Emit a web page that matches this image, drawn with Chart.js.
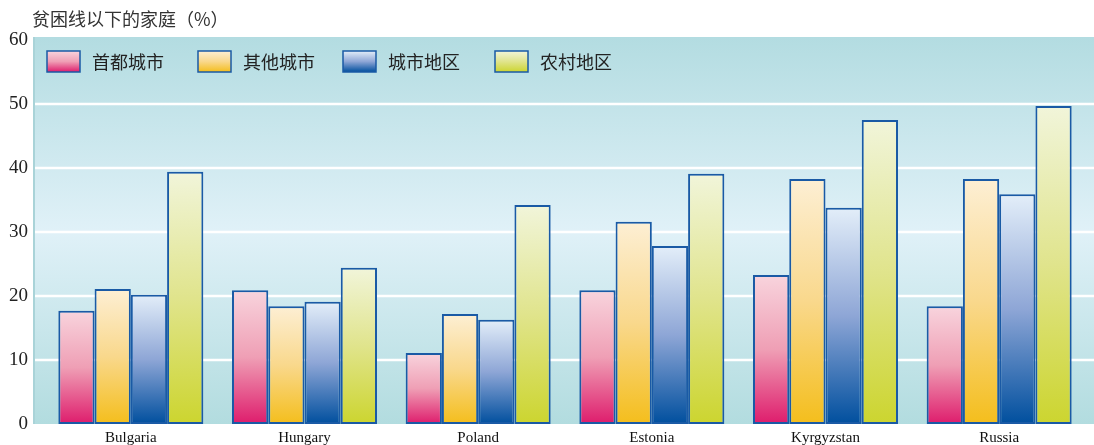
<!DOCTYPE html>
<html><head><meta charset="utf-8">
<script src="https://cdn.jsdelivr.net/npm/chart.js@4/dist/chart.umd.min.js"></script>
<style>html,body{margin:0;padding:0;background:#fff}#wrap{width:1094px;height:445px}</style>
</head><body><div id="wrap"><canvas id="c" width="1094" height="445"></canvas></div>
<script>
const categories = ["Bulgaria","Hungary","Poland","Estonia","Kyrgyzstan","Russia"];
const seriesNames = ["首都城市","其他城市","城市地区","农村地区"];
const capitalCity = [17.7, 20.9, 11.1, 20.9, 23.3, 18.4];
const otherCities = [21.1, 18.4, 17.2, 31.6, 38.3, 38.3];
const urbanAreas  = [20.2, 19.1, 16.3, 27.8, 33.8, 35.9];
const ruralAreas  = [39.4, 24.4, 34.2, 39.1, 47.5, 49.7];
const yTicks = [0,10,20,30,40,50,60];
const axisTitle = "贫困线以下的家庭（%）";

const gradStops = [
  ["#f8d4dd","#ef9fb5","#de1c6c"],
  ["#fdefd4","#f9d88c","#f4be1c"],
  ["#e3eef9","#8ea6d6","#004f9e"],
  ["#f1f5da","#e0e48c","#ccd52f"]
];
function makeGrad(ctx, i, top, bot){
  const g = ctx.createLinearGradient(0, top, 0, bot);
  g.addColorStop(0, gradStops[i][0]);
  g.addColorStop(0.5, gradStops[i][1]);
  g.addColorStop(1, gradStops[i][2]);
  return g;
}
function barFill(i){
  return function(ctx){
    const chart = ctx.chart;
    const ys = chart.scales.y;
    if(!chart.chartArea || !ys || ctx.type!=='data') return gradStops[i][2];
    const v = ctx.raw;
    const top = ys.getPixelForValue(v), bot = ys.getPixelForValue(0);
    if(!isFinite(top) || Math.abs(bot-top)<1) return gradStops[i][2];
    return makeGrad(chart.ctx, i, top, bot);
  };
}
const seriesData = [capitalCity, otherCities, urbanAreas, ruralAreas];
const datasets = seriesNames.map((n,i)=>({
  label:n, data:seriesData[i], backgroundColor:barFill(i),
  borderColor:"#1a5aa5", borderWidth:2, borderSkipped:false,
  categoryPercentage:0.835, barPercentage:1.0
}));
const legendX = [47,198,343,495];

const bgPlugin = {
  id:'bg',
  beforeDraw(chart){
    const {ctx, chartArea:a, scales:{y}} = chart;
    const L = 33, R = 1094, T = a.top-3, B = a.bottom;
    const g = ctx.createLinearGradient(0,T,0,B);
    g.addColorStop(0,"#b3dce1");
    g.addColorStop(0.5,"#e0f1f8");
    g.addColorStop(1,"#b2dcdf");
    ctx.save();
    ctx.fillStyle = g;
    ctx.fillRect(L,T,R-L,B-T);
    ctx.fillStyle = "#a9d3d8";
    ctx.fillRect(L,T,2,B-T);
    ctx.strokeStyle = "#ffffff";
    ctx.lineWidth = 2.5;
    yTicks.forEach(t=>{
      if(t===0||t===60) return;
      const py = Math.round(y.getPixelForValue(t));
      ctx.beginPath(); ctx.moveTo(L+2,py); ctx.lineTo(R,py); ctx.stroke();
    });
    ctx.fillStyle = "#333";
    ctx.font = "18px 'Noto Sans CJK SC'";
    ctx.textBaseline = "middle";
    ctx.textAlign = "left";
    ctx.fillText(axisTitle, 32, 19);
    ctx.restore();
  },
  afterDatasetsDraw(chart){
    const {ctx} = chart;
    ctx.save();
    ctx.font = "18px 'Noto Sans CJK SC'";
    ctx.textBaseline = "middle";
    ctx.textAlign = "left";
    const yTop = 51, h = 21, w = 33;
    seriesNames.forEach((n,i)=>{
      const x = legendX[i];
      ctx.fillStyle = makeGrad(ctx, i, yTop, yTop+h); ctx.fillRect(x,yTop,w,h);
      ctx.strokeStyle = "#1a5aa5"; ctx.lineWidth = 1.5; ctx.strokeRect(x,yTop,w,h);
      ctx.fillStyle = "#222";
      ctx.fillText(n, x+w+12, yTop+h/2+1);
    });
    ctx.restore();
  }
};

new Chart(document.getElementById('c'), {
  type:'bar',
  data:{labels:categories, datasets},
  plugins:[bgPlugin],
  options:{
    responsive:false, animation:false,
    layout:{autoPadding:false, padding:{top:40,right:8,left:0,bottom:0}},
    plugins:{legend:{display:false}, tooltip:{enabled:false}},
    scales:{
      x:{
        grid:{display:false, drawTicks:false}, border:{display:false},
        ticks:{color:"#111", font:{family:"'Liberation Serif'", size:15}, padding:5},
        afterFit(s){ s.height = 21; s.paddingLeft = 0; s.paddingRight = 0; }
      },
      y:{
        min:0, max:60,
        grid:{display:false, drawTicks:false}, border:{display:false},
        ticks:{stepSize:10, color:"#222", font:{family:"'Liberation Serif'", size:19}, padding:16},
        afterFit(s){ s.width = 44; s.paddingTop = 0; s.paddingBottom = 0; }
      }
    }
  }
});
</script>
</body></html>
